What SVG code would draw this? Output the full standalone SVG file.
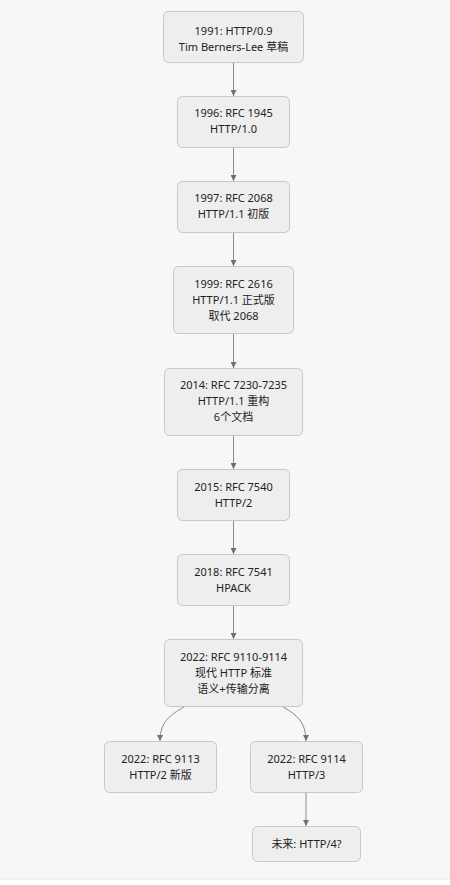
<svg xmlns="http://www.w3.org/2000/svg" width="450" height="885" viewBox="0 0 450 885">
<style>
.bg{fill:#f7f7f7}
.node rect{fill:#eeeeee;stroke:#c8c8c8;stroke-width:1}
.node text{font-family:"Noto Sans","Noto Sans CJK SC",sans-serif;font-size:11px;fill:#222;text-anchor:middle}
.edge{fill:none;stroke:#8a8a8a;stroke-width:1}
</style>
<defs>
<marker id="arr" viewBox="0 0 10 10" refX="10" refY="5" markerWidth="6" markerHeight="6" markerUnits="userSpaceOnUse" orient="auto">
<path d="M0,0 L10,5 L0,10 z" fill="#707070"/>
</marker>
</defs>
<rect class="bg" x="0" y="0" width="450" height="879"/>
<rect x="0" y="879" width="450" height="6" fill="#ffffff"/>
<line x1="0" y1="879" x2="450" y2="879" stroke="#e6e6e6"/>
<g id="connectors">
<path class="edge" d="M233.5,62 V96" marker-end="url(#arr)"/>
<path class="edge" d="M233.5,147 V181" marker-end="url(#arr)"/>
<path class="edge" d="M233.5,232 V266" marker-end="url(#arr)"/>
<path class="edge" d="M233.5,333 V368" marker-end="url(#arr)"/>
<path class="edge" d="M233.5,435 V469" marker-end="url(#arr)"/>
<path class="edge" d="M233.5,520 V554" marker-end="url(#arr)"/>
<path class="edge" d="M233.5,605 V639" marker-end="url(#arr)"/>
<path class="edge" d="M184,707 C170,715 160,722 160,741" marker-end="url(#arr)"/>
<path class="edge" d="M283,707 C297,715 306,722 306,741" marker-end="url(#arr)"/>
<path class="edge" d="M306,792 V826" marker-end="url(#arr)"/>
</g>
<g id="n1991" class="node"><rect x="163.5" y="11.5" width="140" height="51" rx="5"/><text x="233.5" y="35">1991: HTTP/0.9</text><text x="233.5" y="51">Tim Berners-Lee 草稿</text></g>
<g id="n1996" class="node"><rect x="177.5" y="96.5" width="112" height="51" rx="5"/><text x="233.5" y="117">1996: RFC 1945</text><text x="233.5" y="133">HTTP/1.0</text></g>
<g id="n1997" class="node"><rect x="177.5" y="181.5" width="112" height="51" rx="5"/><text x="233.5" y="202">1997: RFC 2068</text><text x="233.5" y="218">HTTP/1.1 初版</text></g>
<g id="n1999" class="node"><rect x="173.5" y="266.5" width="120" height="67" rx="5"/><text x="233.5" y="288">1999: RFC 2616</text><text x="233.5" y="304">HTTP/1.1 正式版</text><text x="233.5" y="320">取代 2068</text></g>
<g id="n2014" class="node"><rect x="164.5" y="368.5" width="138" height="67" rx="5"/><text x="233.5" y="389">2014: RFC 7230-7235</text><text x="233.5" y="405">HTTP/1.1 重构</text><text x="233.5" y="421">6个文档</text></g>
<g id="n2015" class="node"><rect x="177.5" y="469.5" width="112" height="51" rx="5"/><text x="233.5" y="491">2015: RFC 7540</text><text x="233.5" y="507">HTTP/2</text></g>
<g id="n2018" class="node"><rect x="177.5" y="554.5" width="112" height="51" rx="5"/><text x="233.5" y="576">2018: RFC 7541</text><text x="233.5" y="592">HPACK</text></g>
<g id="n2022" class="node"><rect x="164.5" y="639.5" width="138" height="67" rx="5"/><text x="233.5" y="661">2022: RFC 9110-9114</text><text x="233.5" y="677">现代 HTTP 标准</text><text x="233.5" y="693">语义+传输分离</text></g>
<g id="n9113" class="node"><rect x="104.5" y="741.5" width="112" height="51" rx="5"/><text x="160.5" y="763">2022: RFC 9113</text><text x="160.5" y="779">HTTP/2 新版</text></g>
<g id="n9114" class="node"><rect x="250.5" y="741.5" width="112" height="51" rx="5"/><text x="306.5" y="763">2022: RFC 9114</text><text x="306.5" y="779">HTTP/3</text></g>
<g id="nfuture" class="node"><rect x="252.5" y="826.5" width="108" height="35" rx="5"/><text x="306.5" y="848">未来: HTTP/4?</text></g>
</svg>
